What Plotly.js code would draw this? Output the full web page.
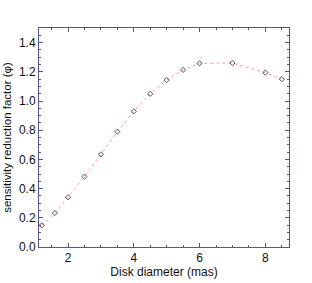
<!DOCTYPE html>
<html>
<head>
<meta charset="utf-8">
<script src="https://cdn.plot.ly/plotly-3.0.1.min.js"></script>
<style>html,body{margin:0;padding:0;background:#fff;}#chart{width:312px;height:283px;}</style>
</head>
<body>
<div id="chart"></div>
<script>
var diskDiameter = [1.2, 1.6, 2, 2.5, 3, 3.5, 4, 4.5, 5, 5.5, 6, 7, 8, 8.5];
var reductionFactor = [0.148, 0.233, 0.341, 0.482, 0.635, 0.79, 0.929, 1.049, 1.143, 1.213, 1.258, 1.26, 1.194, 1.15];
var xTickVals = [2, 4, 6, 8];
var yTickVals = [0, 0.2, 0.4, 0.6, 0.8, 1.0, 1.2, 1.4];

var axisColor = '#55558a';
var font = {family: 'Liberation Sans, Arial, sans-serif', size: 12, color: '#111'};

var trace = {
  x: diskDiameter,
  y: reductionFactor,
  mode: 'lines+markers',
  type: 'scatter',
  line: {color: '#ff9a9a', width: 1, dash: 'dot'},
  marker: {symbol: 'diamond-open', size: 4, color: '#555', line: {color: '#555', width: 1}},
  hoverinfo: 'skip'
};

var common = {
  showline: true, linecolor: axisColor, linewidth: 1, mirror: 'ticks',
  ticks: 'inside', ticklen: 4, tickcolor: axisColor, tickwidth: 1,
  showgrid: false, zeroline: false, tickfont: font
};

var layout = {
  width: 312, height: 283,
  margin: {l: 39, r: 23, t: 28, b: 36},
  paper_bgcolor: '#fff', plot_bgcolor: '#fff',
  showlegend: false,
  font: font,
  xaxis: Object.assign({}, common, {
    range: [1.117, 8.72],
    tickmode: 'array', tickvals: xTickVals, ticktext: xTickVals.map(String),
    minor: {dtick: 0.5, tick0: 0, ticks: 'inside', ticklen: 2, tickcolor: axisColor, tickwidth: 1},
    title: {text: 'Disk diameter (mas)', font: {family: 'Liberation Sans, Arial, sans-serif', size: 12, color: '#111'}, standoff: 2}
  }),
  yaxis: Object.assign({}, common, {
    range: [0, 1.5],
    tickmode: 'array', tickvals: yTickVals, ticktext: yTickVals.map(function(v){return v.toFixed(1);}),
    minor: {dtick: 0.05, tick0: 0, ticks: 'inside', ticklen: 2, tickcolor: axisColor, tickwidth: 1},
    title: {text: 'sensitivity reduction factor (φ)', font: {family: 'Liberation Sans, Arial, sans-serif', size: 11.5, color: '#111'}, standoff: 4}
  })
};

Plotly.newPlot('chart', [trace], layout, {staticPlot: true, displayModeBar: false});
</script>
</body>
</html>
